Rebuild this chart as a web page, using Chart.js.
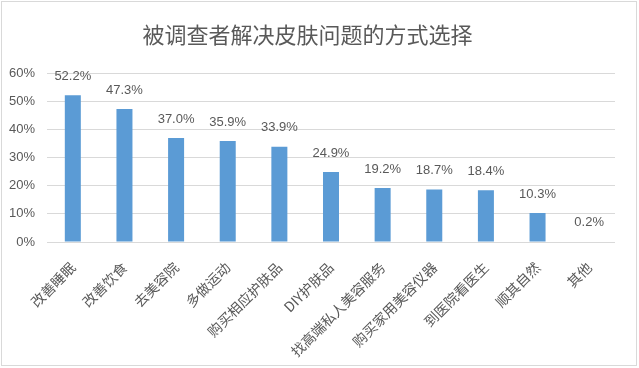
<!DOCTYPE html>
<html>
<head>
<meta charset="utf-8">
<script src="https://cdn.jsdelivr.net/npm/chart.js@4/dist/chart.umd.min.js"></script>
<style>
  html, body { margin: 0; padding: 0; background: #fff; }
  #wrap { position: relative; width: 639px; height: 368px; }
</style>
</head>
<body>
<div id="wrap"><canvas id="chart" width="639" height="368"></canvas></div>
<script>
// 数据
const categories = ['改善睡眠', '改善饮食', '去美容院', '多做运动', '购买相应护肤品', 'DIY护肤品',
  '找高端私人美容服务', '购买家用美容仪器', '到医院看医生', '顺其自然', '其他'];
const shares = [52.2, 47.3, 37.0, 35.9, 33.9, 24.9, 19.2, 18.7, 18.4, 10.3, 0.2];
const yTicks = [0, 10, 20, 30, 40, 50, 60];

const textColor = '#595959';
const fontFamily = '"Liberation Sans", "Noto Sans CJK SC", sans-serif';

// 外框
const framePlugin = {
  id: 'frame',
  beforeDraw(chart) {
    const ctx = chart.ctx;
    ctx.save();
    ctx.fillStyle = '#fff';
    ctx.fillRect(0, 0, chart.width, chart.height);
    ctx.strokeStyle = '#d9d9d9';
    ctx.lineWidth = 1;
    ctx.strokeRect(1.5, 1.5, chart.width - 4, chart.height - 4);
    ctx.restore();
  }
};

// 柱顶数值标签
const valueLabels = {
  id: 'valueLabels',
  afterDatasetsDraw(chart) {
    const ctx = chart.ctx;
    const meta = chart.getDatasetMeta(0);
    ctx.save();
    ctx.font = '13px ' + fontFamily;
    ctx.fillStyle = textColor;
    ctx.textAlign = 'center';
    ctx.textBaseline = 'middle';
    meta.data.forEach((bar, i) => {
      ctx.fillText(shares[i].toFixed(1) + '%', bar.x, bar.y - 19);
    });
    ctx.restore();
  }
};

new Chart(document.getElementById('chart'), {
  type: 'bar',
  data: {
    labels: categories,
    datasets: [{
      data: shares,
      backgroundColor: '#5b9bd5',
      borderWidth: 0,
      categoryPercentage: 1,
      barPercentage: 0.31
    }]
  },
  options: {
    responsive: false,
    animation: false,
    layout: { padding: { left: 0, right: 24, top: 0, bottom: 0 } },
    plugins: {
      legend: { display: false },
      tooltip: { enabled: false },
      title: {
        display: true,
        text: '被调查者解决皮肤问题的方式选择',
        color: textColor,
        font: { family: '"Noto Sans CJK SC", sans-serif', size: 22, weight: 'normal' },
        padding: { top: 21, bottom: 26 }
      }
    },
    scales: {
      x: {
        grid: { display: false },
        border: { display: false },
        ticks: {
          color: textColor,
          font: { family: '"Noto Sans CJK SC", sans-serif', size: 14 },
          minRotation: 45,
          maxRotation: 45,
          autoSkip: false,
          padding: 9
        },
        afterFit(scale) { scale.height = 126; }
      },
      y: {
        min: 0,
        max: 60,
        grid: { color: '#d9d9d9', drawTicks: false },
        border: { display: false },
        afterBuildTicks(scale) { scale.ticks = yTicks.map(v => ({ value: v })); },
        ticks: {
          color: textColor,
          font: { family: fontFamily, size: 13 },
          padding: 12,
          callback: v => v + '%'
        },
        afterFit(scale) { scale.width = 47; }
      }
    }
  },
  plugins: [framePlugin, valueLabels]
});
</script>
</body>
</html>
